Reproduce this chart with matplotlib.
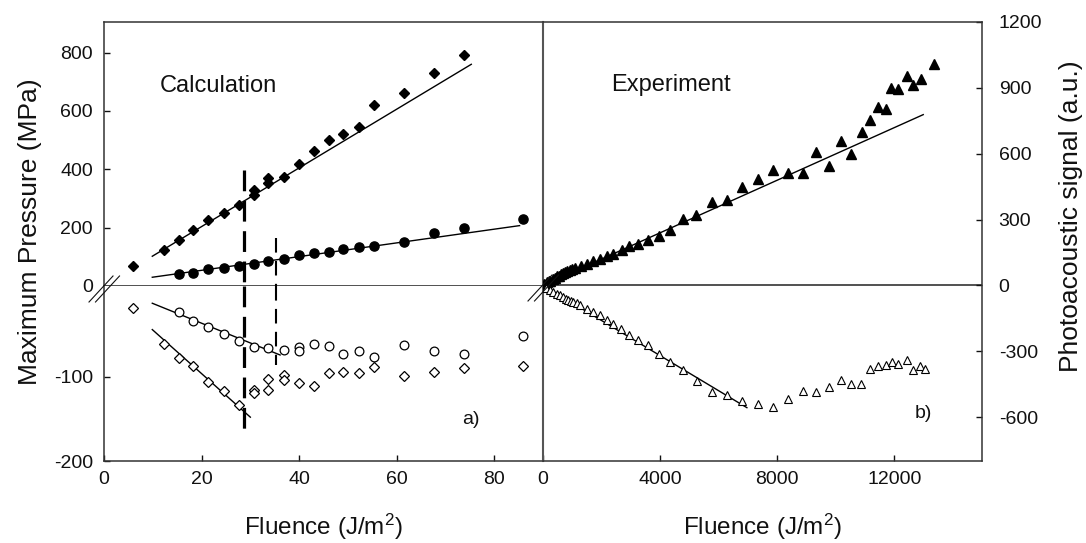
"""
plot.py: calculated vs measured pressure / photoacoustic signal against fluence.
Left panel is a broken-axis plot (two stacked axes), right panel is one axes.
"""
import matplotlib
matplotlib.use("Agg")
import matplotlib.pyplot as plt
from matplotlib.lines import Line2D

INK, SPINE = "#111111", "#333333"

# --- a) calculation (MPa) ---------------------------------------------------------
fd_x = [6.0, 12.2, 15.3, 18.3, 21.4, 24.5, 27.6, 30.7, 30.7, 33.7, 33.7, 36.8,
        39.9, 43.0, 46.1, 49.1, 52.2, 55.3, 61.5, 67.6, 73.8]
fd_y = [69, 125, 157, 193, 225, 250, 277, 311, 328, 353, 371, 375,
        419, 464, 500, 521, 544, 620, 662, 729, 793]
fc_x = [15.4, 18.3, 21.4, 24.5, 27.6, 30.7, 33.7, 36.8, 39.9, 43.0, 46.1, 49.1,
        52.2, 55.3, 61.5, 67.6, 73.8, 86.0]
fc_y = [41, 45, 57, 62, 68, 77, 86, 91, 106, 112, 117, 127,
        132, 137, 151, 182, 199, 231]
oc_x = [15.4, 18.3, 21.4, 24.5, 27.6, 30.7, 33.7, 36.8, 39.9, 39.9, 43.0, 46.1,
        49.1, 52.2, 55.3, 61.5, 67.6, 73.8, 86.0]
oc_y = [-22.9, -33.3, -40.6, -49.0, -57.3, -64.6, -65.6, -67.7, -64.6, -69.8,
        -61.5, -63.5, -72.9, -69.8, -76.0, -62.5, -68.8, -72.9, -51.0]
od_x = [6.0, 12.2, 15.3, 18.3, 21.4, 24.5, 27.6, 30.7, 30.7, 33.7, 33.7, 36.8,
        36.8, 39.9, 43.0, 46.1, 49.1, 52.2, 55.3, 61.5, 67.6, 73.8, 86.0]
od_y = [-17.7, -61.5, -77.1, -86.5, -106.3, -116.7, -133.3, -115.6, -118.8,
        -103.1, -115.6, -97.9, -104.2, -107.3, -110.4, -95.8, -93.8, -95.8,
        -88.5, -99.0, -94.8, -89.6, -87.5]

# fitted lines (end points)
fit_fd_x, fit_fd_y = [9.9, 75.3], [102, 760]
fit_fc_x, fit_fc_y = [9.9, 85.2], [30, 207]
fit_oc_x, fit_oc_y = [9.9, 36.1], [-12.5, -74.0]
fit_od_x, fit_od_y = [9.9, 30.0], [-43.8, -147.9]

# vertical dashed markers: x, upper end, lower end
thresh_x = [28.8, 35.2]
thresh_top = [396, 163]
thresh_bot = [-170.8, -85.4]

# --- b) experiment (a.u.) ----------------------------------------------------------
pos_x = [50, 100, 150, 200, 250, 330, 400, 466, 530, 603, 680, 750, 830, 921,
         1000, 1091, 1285, 1489, 1716, 1944, 2171, 2398, 2683, 2943, 3250, 3592,
         3966, 4331, 4785, 5241, 5773, 6285, 6809, 7342, 7853, 8365, 8876, 9332,
         9764, 10186, 10527, 10889, 11185, 11458, 11719, 11890, 12117, 12424,
         12651, 12913, 13367]
pos_y = [5, 8, 14, 18, 22, 28, 35, 41, 45, 50, 56, 61, 66, 72,
         75, 79, 88, 99, 109, 122, 132, 144, 163, 178, 190, 208,
         223, 254, 301, 322, 380, 390, 448, 483, 524, 512, 512, 607,
         543, 656, 600, 697, 752, 815, 805, 899, 896, 952,
         914, 942, 1010]
neg_x = [100, 239, 350, 466, 580, 693, 780, 864, 950, 1034, 1150, 1262, 1489,
         1716, 1944, 2171, 2398, 2660, 2943, 3250, 3592, 3966, 4331, 4785, 5262,
         5773, 6285, 6809, 7342, 7853, 8365, 8876, 9332, 9764, 10186, 10527,
         10868, 11185, 11458, 11719, 11924, 12117, 12424, 12651, 12879, 13060]
neg_y = [-10, -23, -30, -38, -45, -53, -60, -65, -70, -76, -82, -88, -106,
         -121, -137, -156, -175, -197, -228, -251, -273, -311, -349, -387, -436,
         -486, -498, -528, -542, -554, -516, -483, -486, -463, -433, -448,
         -448, -380, -369, -364, -349, -360, -339, -384, -369, -380]
fit_pos_x, fit_pos_y = [0, 12992], [0, 778]
fit_neg_x, fit_neg_y = [0, 6967], [0, -557]

W, H = 1086, 543

plt.rcParams.update({
    "font.family": ["Liberation Sans", "DejaVu Sans"],
    "mathtext.default": "regular",
    "axes.unicode_minus": False,
    "axes.edgecolor": SPINE, "axes.linewidth": 1.1,
    "xtick.direction": "in", "ytick.direction": "in",
    "xtick.major.size": 4.5, "ytick.major.size": 4.5,
    "xtick.major.width": 1.0, "ytick.major.width": 1.0,
    "xtick.labelsize": 14, "ytick.labelsize": 14,
    "xtick.color": INK, "ytick.color": INK, "text.color": INK,
})


def px_axes(fig, x0, y0, x1, y1):
    return fig.add_axes([x0 / W, 1 - y1 / H, (x1 - x0) / W, (y1 - y0) / H])


def break_mark(fig, x, y):
    # two parallel "//" strokes centred on a display point
    for dx in (-3.0, 3.5):
        cx, cy = x + dx, y - 3
        xs = [(cx - 12) / W, (cx + 12) / W]
        ys = [(cy - 13) / H, (cy + 13) / H]
        fig.add_artist(Line2D(xs, ys, transform=fig.transFigure, color=INK,
                              lw=0.8, zorder=10))


fig = plt.figure(figsize=(W / 100, H / 100), dpi=100)

# left panel: upper (positive) and lower (negative) parts
up = px_axes(fig, 104, 22, 543, 286)
lo = px_axes(fig, 104, 286, 543, 461)
right = px_axes(fig, 543, 22, 982, 461)

for a in (up, lo):
    a.set_xlim(0, 90)
    a.spines["right"].set_visible(False)
up.spines["bottom"].set_visible(False)
lo.spines["top"].set_visible(False)
up.set_ylim(0, 905)
lo.set_ylim(-200, 8)
up.set_xticks([])
up.set_yticks([0, 200, 400, 600, 800])
lo.set_yticks([-200, -100])
lo.set_xticks([0, 20, 40, 60, 80])
up.tick_params(axis="y", pad=8)
lo.tick_params(axis="y", pad=8)
lo.tick_params(axis="x", pad=7)
up.axhline(0, color="#222222", lw=1.1, clip_on=False, zorder=1)

up.plot(fd_x, fd_y, "D", color="black", ms=5.4, zorder=3)
up.plot(fc_x, fc_y, "o", color="black", ms=6.6, zorder=3)
up.plot(fit_fd_x, fit_fd_y, color="black", lw=1.0)
up.plot(fit_fc_x, fit_fc_y, color="black", lw=1.0)

lo.plot(oc_x, oc_y, "o", mfc="white", mec="black", mew=0.9, ms=6.3, zorder=3)
lo.plot(od_x, od_y, "D", mfc="white", mec="black", mew=0.9, ms=4.8, zorder=3)
lo.plot(fit_oc_x, fit_oc_y, color="black", lw=1.0)
lo.plot(fit_od_x, fit_od_y, color="black", lw=1.0)

styles = [dict(lw=2.3, ls=(0, (6.5, 3))), dict(lw=1.5, ls=(0, (7, 4)))]
for xv, top, bot, st in zip(thresh_x, thresh_top, thresh_bot, styles):
    up.plot([xv, xv], [top, 0], color="black", clip_on=False, **st)
    lo.plot([xv, xv], [8, bot], color="black", **st)

up.text(11.5, 686, "Calculation", fontsize=17, va="center")
lo.text(73.5, -151, "a)", fontsize=14, va="center")

# right panel
right.set_xlim(0, 15000)
right.set_ylim(-800, 1200)
right.set_xticks([0, 4000, 8000, 12000])
right.set_yticks([-600, -300, 0, 300, 600, 900, 1200])
right.yaxis.tick_right()
right.tick_params(axis="y", pad=12)
right.tick_params(axis="x", pad=7)
right.spines["left"].set_color("#555555")
right.spines["left"].set_linewidth(1.5)
right.axhline(0, color="#222222", lw=1.1, zorder=1)

right.plot(pos_x, pos_y, "^", color="black", ms=6.9, zorder=3)
right.plot(neg_x, neg_y, "^", mfc="white", mec="black", mew=0.8, ms=6.0,
           zorder=3)
right.plot(fit_pos_x, fit_pos_y, color="black", lw=1.0)
right.plot(fit_neg_x, fit_neg_y, color="black", lw=1.0)

right.text(2318, 911, "Experiment", fontsize=17, va="center")
right.text(12685, -583, "b)", fontsize=14, va="center")

# axis titles
xlab = r"Fluence (J/m$^{2}$)"
fig.text(323.5 / W, 1 - 527 / H, xlab, fontsize=17.5, ha="center", va="center")
fig.text(762.5 / W, 1 - 527 / H, xlab, fontsize=17.5, ha="center", va="center")
fig.text(30 / W, 1 - 232 / H, "Maximum Pressure (MPa)", fontsize=19,
         rotation=90, ha="center", va="center")
fig.text(1071 / W, 1 - 216 / H, "Photoacoustic signal (a.u.)", fontsize=19,
         rotation=90, ha="center", va="center")

break_mark(fig, 104, H - 286)
break_mark(fig, 543, H - 285)

fig.savefig("out.png", dpi=100)
